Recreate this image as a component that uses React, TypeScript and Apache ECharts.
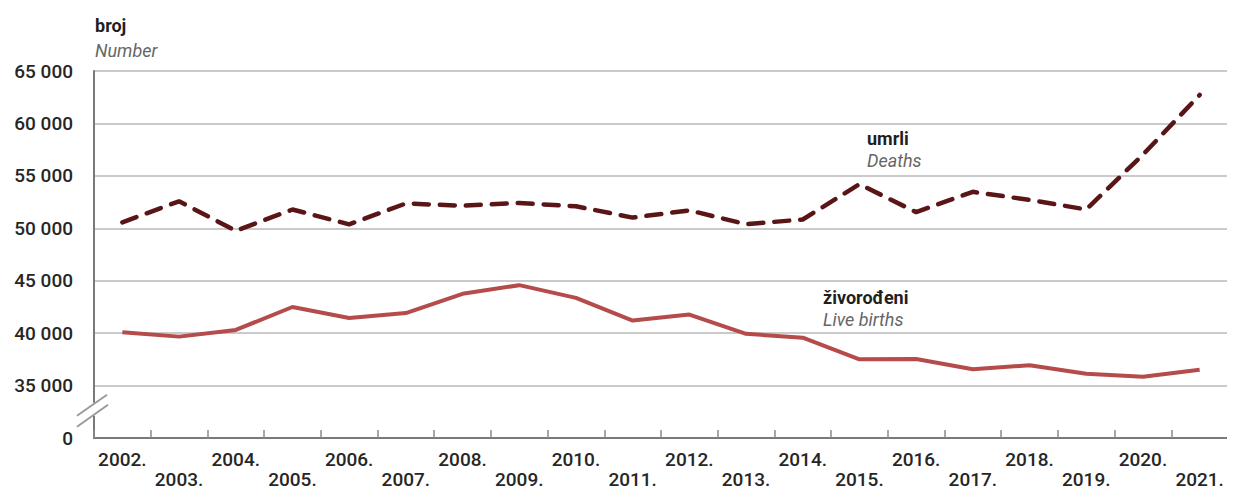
import React, { useEffect, useRef } from "react";
import * as echarts from "echarts";

const years = [
  "2002.", "2003.", "2004.", "2005.", "2006.", "2007.", "2008.", "2009.", "2010.", "2011.",
  "2012.", "2013.", "2014.", "2015.", "2016.", "2017.", "2018.", "2019.", "2020.", "2021.",
];
const liveBirths = [
  40094, 39668, 40307, 42492, 41446, 41910, 43753, 44577, 43361, 41197,
  41771, 39939, 39566, 37503, 37537, 36556, 36945, 36135, 35845, 36508,
];
const deaths = [
  50569, 52575, 49756, 51790, 50378, 52367, 52151, 52414, 52096, 51019,
  51710, 50386, 50839, 54205, 51542, 53477, 52706, 51794, 57023, 62712,
];
const axisMin = 30000; // shown as "0" (broken axis)
const axisMax = 65000;
const axisStep = 5000;

const FONT = "Roboto, 'Liberation Sans', Arial, sans-serif";
const GRID_LEFT = 94;

function fmt(v: number): string {
  if (v === axisMin) return "0";
  const s = String(v);
  return s.slice(0, s.length - 3) + " " + s.slice(-3);
}

const labelBase = {
  fontFamily: FONT,
  fontSize: 19,
  fontWeight: 500,
  color: "#262626",
};

export default function App() {
  const ref = useRef<HTMLDivElement>(null);
  useEffect(() => {
    if (!ref.current) return;
    const chart = echarts.init(ref.current, undefined, { renderer: "svg" });
    const option: any = {
      animation: false,
      grid: { left: GRID_LEFT, right: 7, top: 71, bottom: 57 },
      xAxis: [
        {
          type: "category",
          data: years,
          boundaryGap: true,
          axisLine: { lineStyle: { color: "#7a7a7a", width: 2 } },
          axisTick: { show: true, inside: true, length: 8, interval: 0, lineStyle: { color: "#8a8a8a", width: 1.5 } },
          axisLabel: { ...labelBase, margin: 12, interval: (i: number) => i % 2 === 0 },
          splitLine: { show: false },
        },
        {
          type: "category",
          data: years,
          boundaryGap: true,
          position: "bottom",
          offset: 0,
          axisLine: { show: false },
          axisTick: { show: false },
          axisLabel: { ...labelBase, margin: 32, interval: (i: number) => i % 2 === 1 },
          splitLine: { show: false },
        },
      ],
      yAxis: {
        type: "value",
        min: axisMin,
        max: axisMax,
        interval: axisStep,
        axisLine: { show: true, lineStyle: { color: "#7a7a7a", width: 2 } },
        axisTick: { show: false },
        axisLabel: { ...labelBase, margin: 21, formatter: (v: number) => fmt(v) },
        splitLine: { show: true, lineStyle: { color: "#b8b8b8", width: 1.5 } },
      },
      series: [
        {
          name: "Live births",
          type: "line",
          xAxisIndex: 0,
          data: liveBirths,
          symbol: "none",
          lineStyle: { color: "#b54b4b", width: 4 },
          z: 3,
        },
        {
          name: "Deaths",
          type: "line",
          xAxisIndex: 0,
          data: deaths,
          symbol: "none",
          lineStyle: { color: "#5a1616", width: 4.5, type: [15, 11], cap: "round" },
          z: 3,
        },
      ],
    };
    chart.setOption(option);

    const y35 = chart.convertToPixel({ yAxisIndex: 0 }, 35000) as number;
    const y30 = chart.convertToPixel({ yAxisIndex: 0 }, axisMin) as number;
    const mid = (y35 + y30) / 2;
    const L = GRID_LEFT;
    const T = { fontFamily: FONT, fontSize: 18 };
    chart.setOption({
      graphic: [
        { type: "rect", shape: { x: L - 4, y: mid - 9, width: 8, height: 13 }, style: { fill: "#ffffff" }, z: 100 },
        { type: "line", shape: { x1: L - 17, y1: mid + 4, x2: L + 13, y2: mid - 17 }, style: { stroke: "#9a9a9a", lineWidth: 2 }, z: 101 },
        { type: "line", shape: { x1: L - 17, y1: mid + 15, x2: L + 14, y2: mid - 7 }, style: { stroke: "#9a9a9a", lineWidth: 2 }, z: 101 },
        { type: "text", left: 95, top: 16, style: { ...T, text: "broj", fontWeight: "bold", fill: "#1f1f1f" } },
        { type: "text", left: 95, top: 41, style: { ...T, text: "Number", fontStyle: "italic", fill: "#666666" } },
        { type: "text", left: 867, top: 129, style: { ...T, text: "umrli", fontWeight: "bold", fill: "#1f1f1f" } },
        { type: "text", left: 867, top: 151, style: { ...T, text: "Deaths", fontStyle: "italic", fill: "#666666" } },
        { type: "text", left: 823, top: 288, style: { ...T, text: "živorođeni", fontWeight: "bold", fill: "#1f1f1f" } },
        { type: "text", left: 823, top: 310, style: { ...T, text: "Live births", fontStyle: "italic", fill: "#666666" } },
      ],
    });
    return () => chart.dispose();
  }, []);
  return <div ref={ref} style={{ width: 1235, height: 495, margin: -8 }} />;
}
